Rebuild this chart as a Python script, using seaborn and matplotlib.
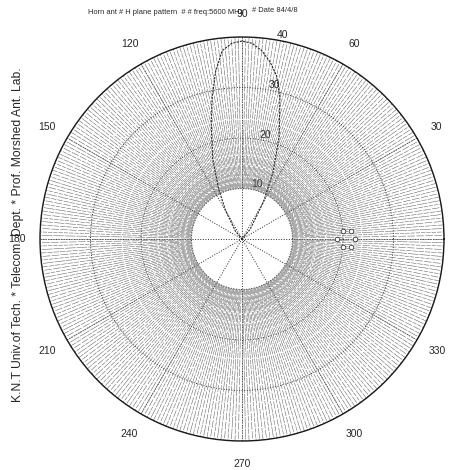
import numpy as np
import pandas as pd
import matplotlib
matplotlib.use("Agg")
import matplotlib.pyplot as plt
import seaborn as sns

sns.set_style("white")
plt.rcParams['font.family'] = ['Liberation Sans', 'DejaVu Sans']

# main lobe of the H plane pattern (angle in degrees, level)
lobe_deg = [40, 50, 60, 65, 70, 75, 78, 81, 84, 87, 90, 93, 96, 99, 102, 105, 110, 115, 120, 130, 140]
lobe_r = [0, 2.5, 8.5, 14.5, 21.5, 29, 33, 35.5, 37.5, 38.8, 39.2, 38.8, 37.5, 33.5, 28.5, 23.5, 17, 11, 6.5, 2, 0]

# small marker cluster near 0 deg
mark_deg = [0, 4.6, 4.2, -4.6, -4.2, 0]
mark_r = [18.8, 20.1, 21.7, 20.1, 21.7, 22.4]

ring_vals = [10, 20, 30, 40]
angle_ticks = [0, 30, 60, 90, 120, 150, 180, 210, 240, 270, 300, 330]
spoke_deg = np.arange(0, 360, 1)

title_left = "Horn ant # H plane pattern  # # freq:5600 MHz"
title_right = "# Date 84/4/8"
side_text = "K.N.T Univ.of Tech. * Telecom. Dept. * Prof. Morshed Ant. Lab."

fig = plt.figure(figsize=(4.61, 4.70), dpi=100)
ax = fig.add_axes([40 / 461, 29 / 470, 404 / 461, 404 / 470], projection='polar')

# dense radial spokes
styles = [(0, (10, 2)), (3, (14, 3)), (6, (8, 2)), (0, (20, 2))]
for i, d in enumerate(spoke_deg):
    ax.plot([np.deg2rad(d)] * 2, [10, 40], color='0.38', lw=0.38,
            linestyle=styles[i % 4])

df = pd.DataFrame({'theta': np.deg2rad(lobe_deg), 'r': lobe_r})
sns.lineplot(data=df, x='theta', y='r', ax=ax, sort=False, color='0.15',
             lw=0.8, linestyle=(0, (2, 1)))

mk = pd.DataFrame({'theta': np.deg2rad(mark_deg), 'r': mark_r})
sns.scatterplot(data=mk, x='theta', y='r', ax=ax, s=11, marker='o',
                facecolor='white', edgecolor='0.2', linewidth=0.6, zorder=5)

ax.set_ylim(0, 40)
ax.set_yticks(ring_vals)
ax.set_yticklabels([str(v) for v in ring_vals], fontsize=7.5)
ax.set_rlabel_position(80)
ax.set_xticks(np.deg2rad(angle_ticks))
ax.set_xticklabels([str(a) for a in angle_ticks], fontsize=7.5)
ax.tick_params(axis='x', pad=6)
ax.grid(True, color='0.15', linestyle=':', lw=0.7)
ax.spines['polar'].set_color('0.1')
ax.spines['polar'].set_linewidth(1.0)
ax.set_xlabel('')
ax.set_ylabel('')

fig.text(88 / 461, 1 - 12 / 470, title_left, fontsize=5.4, ha='left', va='center')
fig.text(252 / 461, 1 - 11 / 470, title_right, fontsize=5.4, ha='left', va='center')
fig.text(18 / 461, 0.50, side_text, fontsize=8.7, rotation=90, ha='center', va='center')

fig.savefig("out.png", dpi=100)
